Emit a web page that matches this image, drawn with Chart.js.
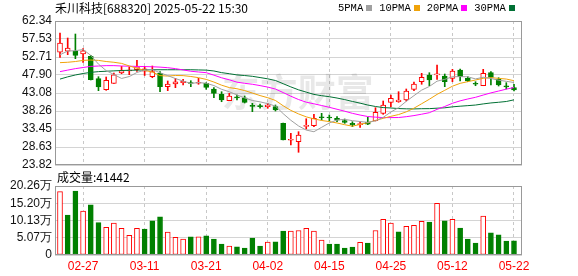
<!DOCTYPE html>
<html><head><meta charset="utf-8">
<script src="https://cdn.jsdelivr.net/npm/chart.js@4/dist/chart.umd.min.js"></script>
<style>
html,body{margin:0;padding:0;background:#fff;}
#wrap{position:relative;width:578px;height:276px;overflow:hidden;background:#fff;}
canvas{position:absolute;left:0;top:0;}
.txt{position:absolute;font-family:'Noto Sans CJK SC',sans-serif;font-size:12px;color:#000;white-space:pre;line-height:16px;}
#legend{position:absolute;top:0px;left:338px;display:flex;align-items:center;font-family:'Liberation Mono',monospace;font-size:10.5px;line-height:16px;color:#000;}
#legend .li{display:flex;align-items:center;margin-right:7px;}
#legend .li i{display:inline-block;width:6px;height:6px;margin-left:3px;}
</style></head>
<body><div id="wrap">
<canvas id="pc" width="578" height="276"></canvas>
<canvas id="vc" width="578" height="276"></canvas>
<div id="title" class="txt" style="left:55px;top:0px"></div>
<div id="legend"></div>
<div id="vlabel" class="txt" style="left:57px;top:169px"></div>
</div>
<script>
// ---- data ----
const stockName = '禾川科技';
const stockCode = '688320';
const stamp = '2025-05-22 15:30';
const dates = ['02-24','02-25','02-26','02-27','02-28','03-03','03-04','03-05','03-06','03-07',
 '03-10','03-11','03-12','03-13','03-14','03-17','03-18','03-19','03-20','03-21',
 '03-24','03-25','03-26','03-27','03-28','03-31','04-01','04-02','04-03','04-07',
 '04-08','04-09','04-10','04-11','04-14','04-15','04-16','04-17','04-18','04-21',
 '04-22','04-23','04-24','04-25','04-28','04-29','04-30','05-06','05-07','05-08',
 '05-09','05-12','05-13','05-14','05-15','05-16','05-19','05-20','05-21','05-22'];
const tickDates = ['02-27','03-11','03-21','04-02','04-15','04-25','05-12','05-22'];
const priceTicks = [23.82,28.63,33.45,38.26,43.08,47.90,52.71,57.53,62.34];
const volTicks = [0,5.07,10.13,15.20,20.26];

const open  = [53.97,54.24,54.23,53.51,52.90,46.91,43.96,45.67,48.43,48.97,
 49.31,48.89,47.44,48.35,44.77,45.49,45.84,45.75,45.68,45.67,
 44.15,42.73,41.02,41.88,41.82,39.60,39.62,39.42,39.42,34.97,
 30.43,30.06,34.17,34.33,36.58,36.58,36.32,35.67,34.97,34.62,
 35.30,35.67,37.65,40.59,40.75,41.21,44.07,46.10,47.90,47.90,
 47.63,47.01,49.23,47.01,45.54,45.03,48.51,46.74,44.82,44.50];
const close = [56.46,55.12,53.16,54.39,46.64,44.69,46.48,47.97,49.05,49.23,
 50.11,49.57,48.78,44.77,45.49,46.10,46.20,45.62,45.94,44.60,
 43.00,41.21,42.28,41.77,40.59,39.50,39.45,39.87,38.53,30.51,
 30.59,31.85,34.33,36.30,36.45,36.40,35.78,35.24,34.52,34.80,
 34.76,37.92,39.87,41.66,41.21,43.62,45.49,47.28,46.56,48.24,
 46.10,48.97,47.44,46.29,45.43,48.35,47.28,45.22,44.71,43.88];
const high  = [59.13,57.79,58.86,54.93,53.16,47.44,47.36,48.43,50.22,50.04,
 51.83,50.22,50.30,48.78,46.29,47.01,46.74,46.37,47.01,45.84,
 44.50,43.43,43.00,42.55,42.28,40.32,40.10,40.32,39.87,35.05,
 32.30,32.73,36.20,37.38,37.65,37.20,36.74,36.12,35.40,35.40,
 36.58,39.15,40.94,42.55,43.43,44.15,46.02,48.35,48.51,50.57,
 48.16,49.42,49.50,47.44,46.10,49.42,48.78,47.17,45.84,45.41];
const low   = [52.63,53.33,52.26,51.29,46.56,43.70,43.80,45.62,48.24,47.98,
 48.88,47.76,47.17,43.43,43.70,44.50,45.22,44.77,45.41,44.07,
 41.82,40.75,41.02,41.21,40.40,38.08,38.99,38.99,38.27,30.51,
 29.17,27.22,33.45,34.06,35.86,35.59,35.40,34.97,34.07,33.90,
 34.60,35.59,37.38,39.42,40.59,40.94,43.70,45.41,45.03,46.74,
 44.77,46.10,46.29,46.10,45.03,45.03,45.22,44.95,44.15,43.62];

const ma5  = [53.3,54.3,54.4,54.7,53.15,50.80,49.07,48.03,46.97,47.48,
 48.57,49.19,49.35,48.49,47.74,46.94,46.27,45.64,45.87,45.69,
 45.07,44.07,43.41,42.57,41.77,41.07,40.71,40.23,39.58,37.56,
 35.78,34.27,33.16,32.72,33.90,35.07,35.85,36.03,35.68,35.45,
 35.21,35.64,36.56,37.99,39.17,40.86,42.37,43.85,44.83,46.24,
 46.73,47.43,47.46,47.41,46.85,47.30,46.96,46.51,46.20,45.89];
const ma10 = [51.2,51.3,51.5,51.8,51.9,51.8,51.5,51.3,51.0,50.32,
 49.69,49.13,48.69,47.73,47.61,47.76,47.73,47.50,47.18,46.72,
 46.01,45.17,44.53,44.22,43.73,43.07,42.39,41.82,41.08,39.67,
 38.43,37.49,36.70,36.15,35.73,35.43,35.06,34.60,34.20,34.68,
 35.14,35.75,36.30,36.84,37.31,38.04,39.01,40.21,41.41,42.71,
 43.80,44.90,45.66,46.12,46.55,47.02,47.20,46.99,46.81,46.37];
const ma20 = [48.8,49.2,49.6,49.9,50.2,50.3,50.4,50.4,50.3,50.25,
 50.2,50.15,50.1,50.0,49.85,49.6,49.25,48.9,48.7,48.52,
 47.85,47.15,46.61,45.98,45.67,45.42,45.06,44.66,44.13,43.20,
 42.22,41.33,40.62,40.19,39.73,39.25,38.73,38.21,37.64,37.18,
 36.79,36.62,36.50,36.50,36.52,36.74,37.04,37.41,37.81,38.70,
 39.47,40.33,40.98,41.48,41.93,42.53,43.11,43.60,44.11,44.54];
const ma30 = [46.8,47.4,47.9,48.3,48.6,48.8,48.9,49.0,49.1,49.15,
 49.2,49.25,49.3,49.3,49.3,49.3,49.3,49.3,49.25,49.2,
 48.97,48.53,48.24,47.92,47.75,47.54,47.21,46.87,46.42,45.57,
 44.71,43.93,43.31,42.70,42.36,42.09,41.73,41.31,40.82,40.36,
 39.86,39.47,39.18,39.07,38.92,38.85,38.82,38.88,38.90,39.02,
 39.12,39.38,39.55,39.70,39.86,40.16,40.42,40.60,40.81,41.25];

// volume in 万 (10k shares)
const vol = [18.6,11.7,18.8,12.9,14.7,9.5,8.1,9.4,7.8,5.8,
 7.8,7.6,10.0,11.2,6.7,5.2,4.7,5.3,5.3,5.6,
 4.7,3.2,2.6,2.4,2.0,5.0,2.6,3.8,3.9,7.0,
 7.0,7.2,7.8,7.0,4.4,3.2,3.2,2.0,2.3,3.7,
 3.5,7.2,10.5,9.4,6.8,8.4,8.7,9.9,9.7,15.2,
 10.0,10.5,7.9,4.7,3.5,11.4,6.5,5.9,4.1,4.1442];

const maNames = ['5PMA','10PMA','20PMA','30PMA'];

// ---- styles ----
const RED = '#ff0000', GREEN = '#008000';
const maColors = ['#a0a0a0','#f0a30a','#ff00ff','#007034'];
const gridColor = '#d4d4d4', frameColor = '#999999';

// ---- derived ----
const candleUp = close.map((c,i)=>c>=open[i]);
const volUp = close.map((c,i)=> i===0 ? true : c>=close[i-1]);
const tickIdx = tickDates.map(d=>dates.indexOf(d));
const maData = [ma5,ma10,ma20,ma30];

document.getElementById('title').textContent = stockName + '[' + stockCode + '] ' + stamp;
document.getElementById('vlabel').textContent = '成交量:' + Math.round(vol[vol.length-1]*10000);
document.getElementById('legend').innerHTML = maNames.map((n,i)=>
  '<span class="li">'+n+'<i style="background:'+maColors[i]+'"></i></span>').join('');

const XMIN = -0.65, XMAX = dates.length + 0.04;

const frame = {id:'frame', afterDraw(c){
  const a=c.chartArea, ctx=c.ctx;
  ctx.save(); ctx.strokeStyle=frameColor; ctx.lineWidth=1;
  ctx.strokeRect(Math.round(a.left)+0.5, Math.round(a.top)+0.5, Math.round(a.right-a.left)-1, Math.round(a.bottom-a.top)-1);
  ctx.restore();
}};
const watermark = {id:'wm', beforeDatasetsDraw(c){
  const a=c.chartArea, ctx=c.ctx;
  ctx.save(); ctx.font='bold 38px "Noto Sans CJK SC"'; ctx.fillStyle='rgba(0,0,0,0.09)';
  ctx.textAlign='center'; ctx.textBaseline='middle';
  ctx.fillText('东方财富', a.left+(a.right-a.left)*0.52, a.top+(a.bottom-a.top)*0.49);
  ctx.restore();
}};

const tickFont = {family:'Liberation Sans', size:12};

Chart.defaults.animation = false;

new Chart(document.getElementById('pc'), {
  type:'bar',
  data:{datasets:[
    ...maData.map((arr,k)=>({type:'line', label:maNames[k], data:arr.map((v,i)=>({x:i,y:v})),
      borderColor:maColors[k], borderWidth:1, pointRadius:0, tension:0, order:0})),
    {type:'bar', label:'body', data:open.map((o,i)=>({x:i,y:[o,close[i]]})),
      backgroundColor:candleUp.map(u=>u?'#ffffff':GREEN), borderColor:candleUp.map(u=>u?RED:GREEN),
      borderWidth:1, borderSkipped:false, barThickness:5, minBarLength:1, grouped:false, order:1},
    {type:'bar', label:'wick', data:low.map((l,i)=>({x:i,y:[l,high[i]]})),
      backgroundColor:candleUp.map(u=>u?RED:GREEN), barThickness:1, grouped:false, order:2}
  ]},
  options:{
    responsive:false, animation:false, events:[],
    layout:{padding:{left:0,right:56,top:21,bottom:111}},
    plugins:{legend:{display:false}, tooltip:{enabled:false}},
    scales:{
      x:{type:'linear', offset:false, min:XMIN, max:XMAX,
         afterBuildTicks:s=>{s.ticks=tickIdx.map(v=>({value:v}));},
         ticks:{display:false}, grid:{color:'#c8c8c8', drawTicks:false, offset:false},
         border:{display:false, dash:[3,3]}},
      y:{min:priceTicks[0], max:priceTicks[priceTicks.length-1],
         afterBuildTicks:s=>{s.ticks=priceTicks.map(v=>({value:v}));},
         afterFit:s=>{s.width=55;},
         ticks:{padding:3, color:'#111', font:tickFont, autoSkip:false, callback:v=>Number(v).toFixed(2)},
         grid:{color:gridColor, drawTicks:false}, border:{display:false}}
    }
  },
  plugins:[watermark, frame]
});

new Chart(document.getElementById('vc'), {
  type:'bar',
  data:{datasets:[{label:'vol', data:vol.map((v,i)=>({x:i,y:v})),
    backgroundColor:volUp.map(u=>u?'#ffffff':GREEN), borderColor:volUp.map(u=>u?RED:GREEN),
    borderWidth:1, borderSkipped:false, barThickness:5}]},
  options:{
    responsive:false, animation:false, events:[],
    layout:{padding:{left:0,right:56,top:186,bottom:0}},
    plugins:{legend:{display:false}, tooltip:{enabled:false}},
    scales:{
      x:{type:'linear', offset:false, min:XMIN, max:XMAX,
         afterBuildTicks:s=>{s.ticks=tickIdx.map(v=>({value:v}));},
         afterFit:s=>{s.height=21;},
         ticks:{color:RED, padding:4, font:tickFont, autoSkip:false, maxRotation:0, callback:v=>dates[v]},
         grid:{color:'#c8c8c8', drawTicks:false, offset:false}, border:{display:false, dash:[3,3]}},
      y:{min:volTicks[0], max:volTicks[volTicks.length-1],
         afterBuildTicks:s=>{s.ticks=volTicks.map(v=>({value:v}));},
         afterFit:s=>{s.width=55;},
         ticks:{padding:3, color:'#111', font:tickFont, autoSkip:false, callback:v=>v===0?'0':Number(v).toFixed(2)+'万'},
         grid:{color:gridColor, drawTicks:false}, border:{display:false}}
    }
  },
  plugins:[frame]
});
</script></body></html>
